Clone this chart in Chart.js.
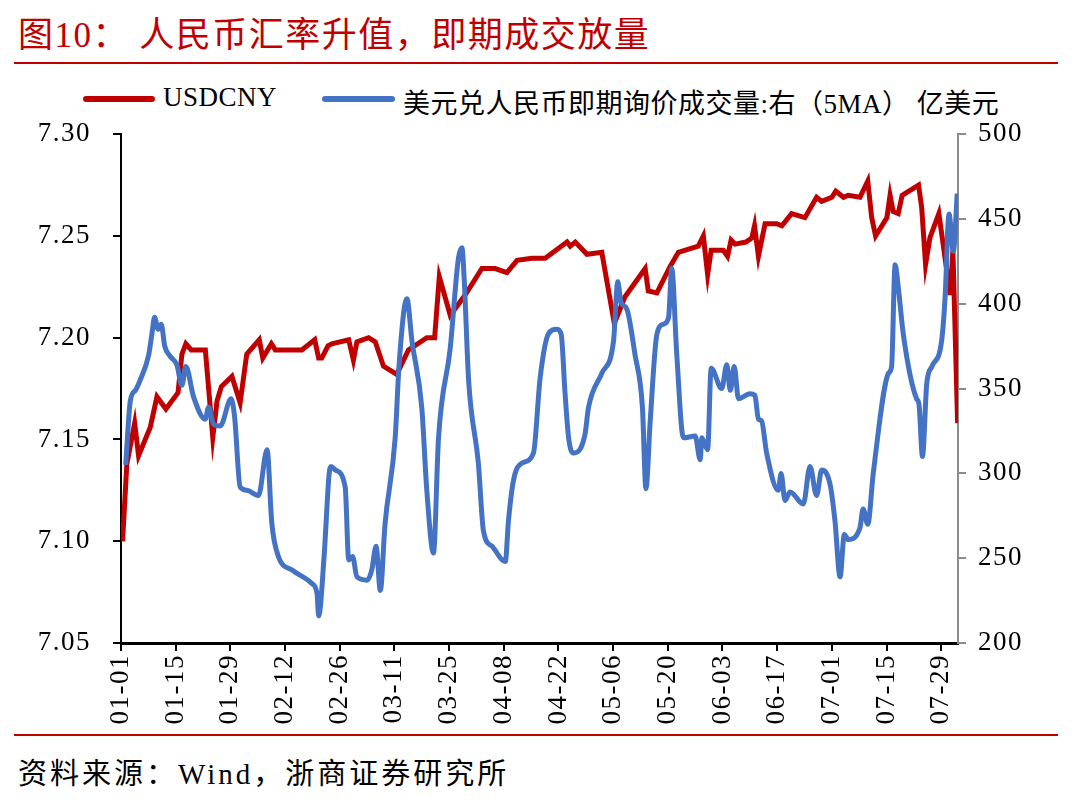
<!DOCTYPE html>
<html lang="zh">
<head>
    <meta charset="UTF-8">
    <title>人民币汇率升值，即期成交放量</title>
    <script src="https://cdn.jsdelivr.net/npm/chart.js"></script>
    <style>
        body, html {
            margin: 0;
            padding: 0;
            background: #fff;
            width: 1080px;
            height: 808px;
            overflow: hidden;
            font-family: "Liberation Serif", "Noto Sans CJK SC", serif;
        }
        .title {
            position: absolute;
            left: 18px;
            top: 6px;
            color: #C00000;
            font-size: 35px;
            letter-spacing: 1.5px;
            white-space: nowrap;
        }
        .rule {
            position: absolute;
            left: 14px;
            width: 1044px;
            height: 2px;
            background: #C00000;
        }
        .legend-line {
            position: absolute;
            height: 6px;
            border-radius: 3px;
            top: 96px;
        }
        .legend-text {
            position: absolute;
            top: 82px;
            font-size: 27px;
            letter-spacing: 0.5px;
            white-space: nowrap;
            color: #000;
        }
        .chart-box {
            position: absolute;
            left: 0;
            top: 96px;
            width: 1080px;
            height: 644px;
        }
        .source {
            position: absolute;
            left: 18px;
            top: 750px;
            font-size: 29px;
            letter-spacing: 3px;
            white-space: nowrap;
            color: #000;
        }
    </style>
</head>
<body>
    <div class="title">图10： 人民币汇率升值，即期成交放量</div>
    <div class="rule" style="top: 62px;"></div>

    <div class="legend-line" style="left: 83px; width: 72px; background: #C00000;"></div>
    <div class="legend-text" style="left: 163px;">USDCNY</div>
    <div class="legend-line" style="left: 322px; width: 73px; background: #4472C4;"></div>
    <div class="legend-text" style="left: 403px;">美元兑人民币即期询价成交量:右（5MA） 亿美元</div>

    <div class="chart-box">
        <canvas id="fxChart" width="1080" height="644"></canvas>
    </div>

    <div class="rule" style="top: 734px;"></div>
    <div class="source">资料来源：Wind，浙商证券研究所</div>

    <script>
        // x = days since 01-01
        const tickLabels = ['01-01', '01-15', '01-29', '02-12', '02-26', '03-11', '03-25', '04-08',
                            '04-22', '05-06', '05-20', '06-03', '06-17', '07-01', '07-15', '07-29'];

        const cnyDays = [0.4, 1.5, 3.5, 4.5, 7.5, 9.2, 11.5, 14.6, 15.6, 16.6, 18, 21.6, 23.5, 24.6, 25.7,
            28.4, 30.5, 32.2, 35.4, 36.3, 38.5, 39.5, 46.3, 49.6, 50.6, 51.4, 53, 54, 58.3, 59.5, 60.4,
            63.4, 65.1, 67.2, 70.6, 73.6, 78.3, 80.3, 81.5, 84.3, 88.1, 92.4, 95.8, 98.8, 101.4, 105.2,
            108.6, 114.2, 115, 116.3, 119.3, 123.1, 126.3, 129, 134.2, 135, 137.2, 140.6, 142.7, 147.8,
            149.1, 150.2, 151.1, 154.2, 155.3, 156.2, 157.2, 160, 161.5, 162.2, 163.2, 164.9, 167.9,
            169.2, 171.7, 175.1, 178.1, 179.4, 182, 183, 185, 186.2, 189.2, 191.2, 192.2, 193.2, 196.1,
            196.9, 197.7, 199, 200, 204.2, 205, 206, 207.1, 209.4, 212.3, 213, 214.2];
        const cnyVals = [7.100, 7.138, 7.158, 7.142, 7.156, 7.171, 7.165, 7.173, 7.192, 7.197, 7.194,
            7.194, 7.151, 7.169, 7.176, 7.181, 7.168, 7.192, 7.199, 7.190, 7.197, 7.194, 7.194, 7.199,
            7.190, 7.190, 7.196, 7.197, 7.199, 7.189, 7.198, 7.200, 7.198, 7.186, 7.182, 7.194, 7.200,
            7.200, 7.230, 7.211, 7.221, 7.234, 7.234, 7.232, 7.238, 7.239, 7.239, 7.247, 7.245, 7.247,
            7.241, 7.242, 7.207, 7.220, 7.234, 7.223, 7.222, 7.235, 7.242, 7.245, 7.250, 7.231, 7.243,
            7.243, 7.240, 7.248, 7.246, 7.247, 7.249, 7.255, 7.240, 7.256, 7.256, 7.255, 7.261, 7.259,
            7.269, 7.267, 7.269, 7.272, 7.269, 7.270, 7.269, 7.277, 7.259, 7.250, 7.259, 7.270, 7.262,
            7.261, 7.270, 7.275, 7.264, 7.236, 7.249, 7.261, 7.221, 7.243, 7.158];

        const volDays = [1.2, 2.4, 3.7, 4.9, 7.1, 7.9, 8.6, 9.5, 10.3, 11.2, 12.6, 14.3, 15.6, 16.6, 18.6,
            21.6, 22.4, 23.7, 25.4, 28.2, 29.1, 30.5, 32.2, 35.2, 37.4, 38.6, 40.3, 43.8, 48.9, 50.2,
            50.6, 52, 53.3, 53.8, 54.9, 57.4, 58.3, 59.3, 60.4, 63, 64.2, 65.3, 66.4, 67.6, 70.2, 71.2,
            73.2, 74.5, 77, 78.3, 80, 81.3, 84.3, 86.4, 87.3, 87.9, 89, 91.5, 92.8, 95, 98.4, 99.2, 100.5,
            102.6, 105.6, 107.3, 109.4, 111.6, 112.7, 113.7, 114.6, 115.8, 118.8, 119.7, 123.1, 126.1,
            127.2, 128, 129.5, 131.6, 133.5, 134.4, 135.5, 137.2, 138.9, 140.2, 141, 142.3, 144, 147,
            148.3, 148.7, 150.2, 151.1, 153.8, 155.1, 156, 157, 158.1, 161, 162.3, 163.2, 164, 165.3,
            168.3, 169, 170, 171.3, 174.7, 176.4, 178.1, 179.4, 181.5, 182.8, 184.1, 185.2, 186.2, 189.2,
            190, 191.2, 192.6, 196.5, 197.3, 198.2, 199, 200.3, 203.7, 204.3, 205.2, 206.3, 207.6, 210.1,
            211, 212, 213.1, 214.1];
        const volVals = [305, 343, 349, 355, 370, 382, 392, 385, 388, 375, 369, 364, 352, 363, 345,
            332, 339, 329, 328, 344, 333, 292, 290, 287, 314, 271, 251, 243, 235, 229,
            216, 251, 300, 304, 302, 292, 249, 251, 239, 237, 243, 257, 231, 270, 321, 364,
            403, 378, 339, 290, 253, 321, 374, 427, 433, 413, 355, 306, 266, 257, 248, 272, 296,
            306, 312, 356, 382, 385, 382, 347, 321, 312, 323, 339, 359, 378,
            413, 401, 397, 370, 339, 291, 331, 382, 388, 392, 421, 370, 321, 322,
            308, 321, 314, 362, 350, 364, 349, 363, 344, 347, 346, 332, 331, 312,
            290, 300, 284, 289, 282, 304, 287, 302, 294, 272, 239, 264, 261, 268,
            279, 270, 300, 359, 363, 423, 410, 382, 344, 341, 310, 353, 363, 378,
            404, 453, 431, 465];

        const toPoints = (xs, ys) => xs.map((x, i) => ({ x: x, y: ys[i] }));
        const tickFont = { family: '"Liberation Serif", serif', size: 27 };

        // wider tick text like the original
        const spacingPlugin = {
            id: 'spacing',
            beforeUpdate: chart => { chart.ctx.letterSpacing = '1.5px'; },
            beforeDraw: chart => { chart.ctx.letterSpacing = '1.5px'; }
        };

        new Chart(document.getElementById('fxChart'), {
            type: 'line',
            data: {
                datasets: [
                    {
                        label: 'USDCNY',
                        data: toPoints(cnyDays, cnyVals),
                        yAxisID: 'y',
                        borderColor: '#C00000',
                        borderWidth: 5,
                        pointRadius: 0,
                        tension: 0,
                        order: 2
                    },
                    {
                        label: '美元兑人民币即期询价成交量:右（5MA） 亿美元',
                        data: toPoints(volDays, volVals),
                        yAxisID: 'y1',
                        borderColor: '#4472C4',
                        borderWidth: 5,
                        pointRadius: 0,
                        cubicInterpolationMode: 'monotone',
                        order: 1
                    }
                ]
            },
            plugins: [spacingPlugin],
            options: {
                responsive: false,
                animation: false,
                layout: { padding: { top: 9, left: 0, right: 0, bottom: 0 } },
                plugins: { legend: { display: false }, tooltip: { enabled: false } },
                scales: {
                    x: {
                        type: 'linear',
                        min: 0,
                        max: 214.3,
                        afterBuildTicks: s => { s.ticks = tickLabels.map((t, i) => ({ value: i * 14 })); },
                        afterFit: s => { s.height = 97; },
                        ticks: {
                            autoSkip: false,
                            minRotation: 90,
                            maxRotation: 90,
                            padding: 3,
                            color: '#000',
                            font: tickFont,
                            callback: (v, i) => tickLabels[i]
                        },
                        grid: { drawOnChartArea: false, drawTicks: true, tickLength: 8, color: '#000', lineWidth: 2 },
                        border: { color: '#000', width: 3 }
                    },
                    y: {
                        position: 'left',
                        min: 7.05,
                        max: 7.30,
                        afterFit: s => { s.width = 121; },
                        ticks: {
                            stepSize: 0.05,
                            padding: 22,
                            color: '#000',
                            font: tickFont,
                            callback: v => v.toFixed(2)
                        },
                        grid: { drawOnChartArea: false, drawTicks: true, tickLength: 8, color: '#000', lineWidth: 2 },
                        border: { color: '#000', width: 2 }
                    },
                    y1: {
                        position: 'right',
                        min: 200,
                        max: 500,
                        afterFit: s => { s.width = 122; },
                        ticks: {
                            stepSize: 50,
                            padding: 12,
                            color: '#000',
                            font: tickFont
                        },
                        grid: { drawOnChartArea: false, drawTicks: true, tickLength: 8, color: '#8c8c8c', lineWidth: 2 },
                        border: { color: '#8c8c8c', width: 2 }
                    }
                }
            }
        });
    </script>
</body>
</html>
